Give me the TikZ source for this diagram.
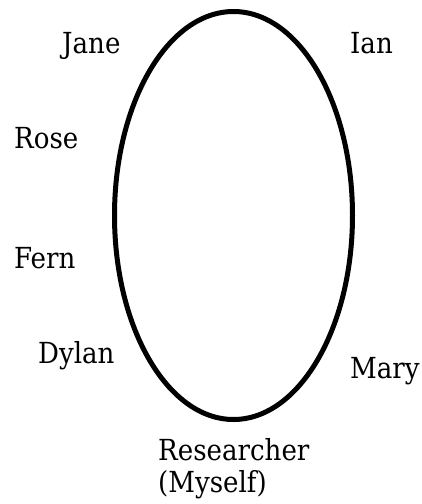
\documentclass[tikz,border=0pt]{standalone}
\usepackage{fontspec}
\setmainfont{DejaVu Serif Condensed}
\begin{document}
\begin{tikzpicture}[x=1pt,y=-1pt,
  lbl/.style={anchor=base west,inner sep=0pt,font=\fontsize{29}{33}\selectfont},
  ring/.style={draw=black,line width=5pt}]
\useasboundingbox (0,0) rectangle (421,504);
\coordinate (ctr) at (233.5,215.5);
\draw[ring] (ctr) ellipse [x radius=119, y radius=204];
\node[lbl] (jane) at (62,53) {Jane};
\node[lbl] (ian) at (350,53) {Ian};
\node[lbl] (rose) at (14,148) {Rose};
\node[lbl] (fern) at (14,268) {Fern};
\node[lbl] (dylan) at (38,363) {Dylan};
\node[lbl] (mary) at (350,378) {Mary};
\node[lbl] (res) at (158,460) {Researcher};
\node[lbl] (me) at (158,492) {(Myself)};
\end{tikzpicture}
\end{document}
